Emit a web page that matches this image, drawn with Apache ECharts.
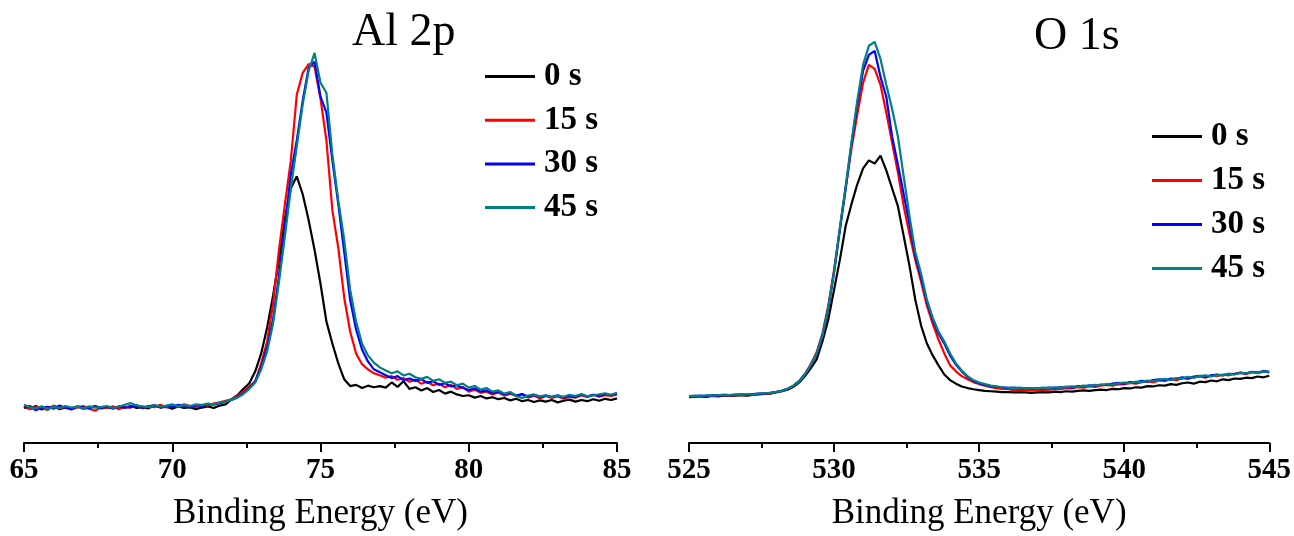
<!DOCTYPE html>
<html>
<head>
<meta charset="utf-8">
<script src="https://cdn.jsdelivr.net/npm/echarts@6/dist/echarts.min.js"></script>
<style>html,body{margin:0;padding:0;background:#fff}#chart{width:1294px;height:536px}</style>
</head>
<body>
<div id="chart"></div>
<script>
// ---------- DATA ----------
const seriesNames = ['0 s', '15 s', '30 s', '45 s'];
const seriesColors = ['#000000', '#ff0000', '#0000ff', '#008080'];
const panelTitles = ['Al 2p', 'O 1s'];
const axisTitle = 'Binding Energy (eV)';
const alRange = [65, 85];
const oRange = [525, 545];

const alEnergy = [65,65.2,65.4,65.6,65.8,66,66.2,66.4,66.6,66.8,67,67.2,67.4,67.6,67.8,68,68.2,68.4,68.6,68.8,69,69.2,69.4,69.6,69.8,70,70.2,70.4,70.6,70.8,71,71.2,71.4,71.6,71.8,72,72.2,72.4,72.6,72.8,73,73.2,73.4,73.6,73.8,74,74.2,74.4,74.6,74.8,75,75.2,75.4,75.6,75.8,76,76.2,76.4,76.6,76.8,77,77.2,77.4,77.6,77.8,78,78.2,78.4,78.6,78.8,79,79.2,79.4,79.6,79.8,80,80.2,80.4,80.6,80.8,81,81.2,81.4,81.6,81.8,82,82.2,82.4,82.6,82.8,83,83.2,83.4,83.6,83.8,84,84.2,84.4,84.6,84.8,85];

const al0s = [8.0,7.6,8.3,7.4,7.8,8.2,7.5,7.9,7.7,8.1,7.6,7.9,8.2,7.7,8.0,7.8,8.1,7.9,8.3,7.8,8.0,7.7,8.4,7.9,8.1,7.6,8.2,7.8,8.0,7.5,7.9,8.2,7.8,8.4,8.7,
10.0,11.0,12.6,14.0,17.0,21.5,28.0,36.0,45.0,55.5,63.0,66.0,61.5,55.0,47.5,39.0,29.5,24.0,19.0,15.0,13.3,13.6,12.8,13.4,13.0,13.3,12.9,14.2,13.1,14.5,
12.6,13.0,12.2,12.8,11.8,12.3,11.4,11.9,11.2,10.8,11.0,10.4,10.8,10.2,10.5,10.0,10.3,9.7,10.1,9.5,9.8,9.3,9.7,9.4,9.8,9.2,9.6,9.9,9.4,9.8,9.5,10.0,9.6,10.1,9.8,10.2];

const al15s = [8.2,7.5,8.0,7.8,7.3,8.4,7.7,8.1,7.4,7.9,8.3,7.6,7.1,8.0,7.8,8.2,7.5,8.1,7.9,8.5,7.7,8.3,8.0,8.6,7.9,8.4,8.1,8.7,8.3,8.0,8.6,8.4,8.9,9.2,9.6,
10.0,10.8,12.0,13.2,14.5,19.0,24.5,34.0,47.5,59.0,70.0,86.5,92.0,94.2,93.5,85.5,75.0,57.5,48.0,35.5,27.0,21.5,18.8,17.5,16.5,16.0,15.4,15.8,14.9,15.3,
14.4,14.9,13.9,14.4,13.5,13.9,13.0,13.6,12.6,13.1,11.9,12.4,11.6,11.9,11.2,11.7,10.9,11.4,10.8,11.2,10.4,10.9,10.2,10.8,10.3,10.7,10.1,10.6,10.4,11.0,10.5,11.1,10.6,11.0,10.8,11.2];

const al30s = [7.8,8.3,7.2,7.9,8.1,7.6,8.4,7.8,7.5,8.2,7.9,7.7,8.3,7.8,8.1,7.6,8.2,7.9,8.0,8.4,7.8,8.2,8.5,7.9,8.3,8.1,8.6,8.2,7.9,8.5,8.3,8.8,8.6,9.0,9.3,
9.8,10.5,11.5,12.8,14.5,18.0,23.0,30.0,41.0,53.5,66.5,75.0,85.0,93.3,94.8,86.0,82.0,70.0,59.0,47.0,35.0,27.5,22.5,19.5,17.5,16.8,16.0,15.3,15.8,14.8,
15.2,14.6,15.0,14.1,14.5,13.6,14.0,13.2,13.5,12.8,12.3,12.7,11.9,12.2,11.5,11.9,11.2,11.6,10.9,11.3,10.7,11.1,10.5,10.9,10.6,11.0,10.4,10.8,10.6,11.2,10.7,11.1,10.8,11.3,11.0,11.4];

const al45s = [8.6,8.0,7.7,8.2,7.6,8.0,7.8,8.3,7.9,8.1,7.7,8.2,7.9,8.0,8.3,7.8,8.1,8.6,9.0,8.4,8.2,8.0,8.5,8.1,8.4,8.7,8.2,8.5,8.3,8.7,8.5,8.9,8.7,9.1,9.4,
9.9,10.4,11.3,12.6,14.2,17.5,22.0,29.0,39.5,51.0,63.0,73.5,84.0,92.5,97.0,89.5,87.0,71.5,60.0,50.0,37.5,29.5,24.0,21.0,19.2,18.0,17.2,16.5,17.0,16.0,
16.4,15.5,15.1,15.6,14.6,15.0,14.1,14.4,13.5,13.9,12.9,13.3,12.4,12.8,11.9,12.2,11.4,11.8,10.8,10.3,10.9,11.2,10.7,11.0,10.5,10.9,10.6,11.1,10.8,11.3,10.7,11.0,11.2,11.5,11.1,11.6];

const oEnergy = [525,525.2,525.4,525.6,525.8,526,526.2,526.4,526.6,526.8,527,527.2,527.4,527.6,527.8,528,528.2,528.4,528.6,528.8,529,529.2,529.4,529.6,529.8,530,530.2,530.4,530.6,530.8,531,531.2,531.4,531.6,531.8,532,532.2,532.4,532.6,532.8,533,533.2,533.4,533.6,533.8,534,534.2,534.4,534.6,534.8,535,535.2,535.4,535.6,535.8,536,536.2,536.4,536.6,536.8,537,537.2,537.4,537.6,537.8,538,538.2,538.4,538.6,538.8,539,539.2,539.4,539.6,539.8,540,540.2,540.4,540.6,540.8,541,541.2,541.4,541.6,541.8,542,542.2,542.4,542.6,542.8,543,543.2,543.4,543.6,543.8,544,544.2,544.4,544.6,544.8,545];

const o0s = [10.5,10.6,10.7,10.6,10.8,10.7,10.9,10.8,10.9,11.0,10.9,11.1,11.2,11.3,11.4,
11.7,12.0,12.4,13.1,14.2,15.8,17.8,20.0,24.5,30.0,37.5,45.0,53.5,59.0,64.0,68.0,70.0,69.2,71.2,67.5,63.0,58.5,51.0,43.5,35.0,28.5,24.0,21.0,18.5,16.2,14.8,13.9,13.2,12.8,12.5,12.3,12.1,12.0,
11.9,11.8,11.8,11.7,11.8,11.7,11.6,11.7,11.8,11.7,11.9,11.8,12.0,11.9,12.1,12.2,12.1,12.3,12.4,12.3,12.6,12.5,12.8,12.7,13.0,12.9,13.3,13.2,13.5,13.4,13.8,13.6,14.0,14.2,13.9,14.4,14.3,14.7,14.5,15.0,14.8,15.2,15.1,15.4,15.3,15.7,15.5,15.9];

const o15s = [10.6,10.7,10.8,10.7,10.9,10.8,11.0,10.9,11.0,11.1,11.0,11.2,11.3,11.4,11.5,
11.8,12.1,12.6,13.4,14.6,16.4,18.8,21.8,26.5,33.5,42.5,53.0,63.0,73.0,81.5,89.5,94.0,93.0,89.0,82.0,74.5,67.0,58.5,51.5,45.0,39.5,33.5,29.0,25.0,21.5,18.5,17.0,15.8,15.0,14.3,13.8,13.4,13.0,
12.8,12.6,12.5,12.3,12.4,12.2,12.3,12.2,12.4,12.3,12.6,12.5,12.8,12.7,13.0,12.9,13.2,13.1,13.4,13.6,13.4,13.8,13.7,14.1,13.9,14.3,14.5,14.2,14.7,14.6,15.0,14.8,15.3,15.1,15.5,15.7,15.4,15.9,15.8,16.2,16.0,16.4,16.6,16.3,16.8,16.6,16.9,16.7];

const o30s = [10.7,10.8,10.9,10.8,11.0,10.9,11.1,11.0,11.1,11.2,11.1,11.3,11.4,11.4,11.6,
11.8,12.1,12.6,13.4,14.5,16.2,18.6,21.4,25.8,32.8,41.8,52.5,63.0,74.0,84.0,92.5,96.5,97.5,91.0,86.0,76.0,69.0,61.5,54.0,46.0,40.5,34.5,30.0,26.5,24.0,21.0,18.7,17.0,15.6,14.6,14.0,13.6,13.3,
13.1,13.0,12.8,12.9,12.7,12.8,12.6,12.8,12.7,12.9,12.8,13.0,13.1,12.9,13.3,13.2,13.5,13.4,13.7,13.6,13.9,14.1,13.9,14.3,14.2,14.6,14.4,14.8,15.0,14.7,15.2,15.1,15.5,15.3,15.7,15.9,15.6,16.0,16.2,16.0,16.4,16.3,16.7,16.5,16.9,16.7,17.1,16.9];

const o45s = [10.8,10.9,10.8,11.0,10.9,11.0,11.1,11.0,11.2,11.1,11.3,11.2,11.4,11.5,11.6,
11.8,12.1,12.6,13.4,14.5,16.2,18.6,21.5,26.0,33.0,42.0,53.0,63.5,74.5,85.0,94.0,98.8,99.8,95.5,89.0,83.0,76.0,66.0,56.0,47.0,41.5,35.0,30.5,27.0,24.5,21.5,19.0,17.2,15.8,14.8,14.2,13.8,13.4,
13.2,13.0,12.9,12.8,12.9,12.7,12.8,12.7,12.9,12.8,13.0,12.9,13.1,13.2,13.1,13.4,13.3,13.6,13.5,13.8,13.7,14.0,14.2,14.0,14.4,14.3,14.7,14.5,14.9,15.1,14.8,15.3,15.2,15.6,15.4,15.8,16.0,15.7,16.1,16.0,16.4,16.2,16.6,16.5,16.8,16.6,17.0,16.8];

const alSeries = [al0s, al15s, al30s, al45s];
const oSeries = [o0s, o15s, o30s, o45s];

// ---------- CHART ----------
const F = "'Liberation Serif','Times New Roman',Times,serif";
const chart = echarts.init(document.getElementById('chart'), null, {renderer: 'canvas'});

function xAx(gridIndex, range) {
  return {
    type: 'value', gridIndex: gridIndex, min: range[0], max: range[1], interval: 5, offset: 4,
    axisLine: {show: true, onZero: false, lineStyle: {color: '#000', width: 2}},
    axisTick: {show: true, inside: false, length: 9, lineStyle: {color: '#000', width: 2}},
    minorTick: {show: true, splitNumber: 2, length: 5, lineStyle: {color: '#000', width: 2}},
    splitLine: {show: false}, minorSplitLine: {show: false},
    axisLabel: {margin: 13, fontFamily: F, fontWeight: 'bold', fontSize: 29, lineHeight: 29, color: '#000'},
    name: axisTitle, nameLocation: 'middle', nameGap: 53,
    nameTextStyle: {fontFamily: F, fontSize: 35, lineHeight: 35, color: '#000'}
  };
}
function yAx(gridIndex) {
  return {type: 'value', gridIndex: gridIndex, min: 0, max: 100, show: false,
    splitLine: {show: false}};
}
function mkSeries(xs, list, axisIndex) {
  return list.map((arr, k) => ({
    type: 'line', name: seriesNames[k], xAxisIndex: axisIndex, yAxisIndex: axisIndex,
    data: xs.map((x, i) => [x, arr[i]]),
    symbol: 'none', showSymbol: false, silent: true,
    lineStyle: {color: seriesColors[k], width: 2.2},
    itemStyle: {color: seriesColors[k]},
    z: 2 + k
  }));
}
function legend(left, top, gap) {
  return {
    data: seriesNames, orient: 'vertical', left: left, top: top,
    itemWidth: 50, itemHeight: 3, itemGap: gap, icon: 'rect', padding: 0,
    selectedMode: false,
    textStyle: {fontFamily: F, fontWeight: 'bold', fontSize: 33, lineHeight: 32, color: '#000', padding: [0, 0, 0, 4]}
  };
}

chart.setOption({
  animation: false,
  backgroundColor: '#ffffff',
  title: [
    {text: panelTitles[0], left: 352, top: 10, padding: 0,
     textStyle: {fontFamily: F, fontWeight: 'normal', fontSize: 46, lineHeight: 46, color: '#000'}},
    {text: panelTitles[1], left: 1034, top: 14, padding: 0,
     textStyle: {fontFamily: F, fontWeight: 'normal', fontSize: 46, lineHeight: 46, color: '#000'}}
  ],
  legend: [legend(485, 60, 10.7), legend(1152, 120, 11)],
  grid: [
    {left: 24, top: 41, width: 593, height: 400},
    {left: 689, top: 41, width: 582, height: 400}
  ],
  xAxis: [xAx(0, alRange), xAx(1, oRange)],
  yAxis: [yAx(0), yAx(1)],
  series: mkSeries(alEnergy, alSeries, 0).concat(mkSeries(oEnergy, oSeries, 1))
});
</script>
</body>
</html>
